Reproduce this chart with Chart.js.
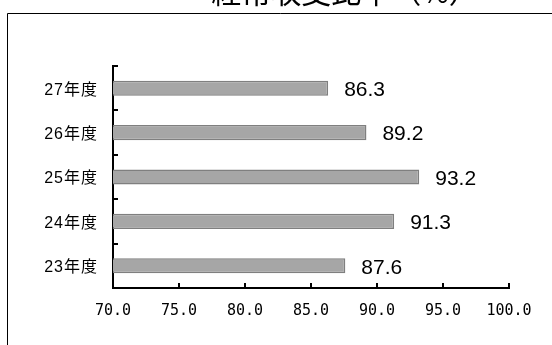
<!DOCTYPE html>
<html>
<head>
<meta charset="utf-8">
<script src="https://cdn.jsdelivr.net/npm/chart.js@4/dist/chart.umd.min.js"></script>
<style>
  html, body { margin: 0; padding: 0; background: #fff; }
  canvas { display: block; }
</style>
</head>
<body>
<canvas id="c" width="552" height="345"></canvas>
<script>
// 経常収支比率（%）— fiscal years 23–27
const titleText = '経常収支比率（%）';
const years = ['23年度', '24年度', '25年度', '26年度', '27年度'];
const ratios = [87.6, 91.3, 93.2, 89.2, 86.3];
const axisTicks = [70, 75, 80, 85, 90, 95, 100];

const labelFont = '"Liberation Sans", "Noto Sans CJK JP", sans-serif';

// Frame line, inward tick marks, title and value labels
const decor = {
  id: 'decor',
  beforeDraw(chart) {
    const ctx = chart.ctx;
    ctx.save();
    ctx.strokeStyle = '#000';
    ctx.lineWidth = 1;
    ctx.beginPath();
    ctx.moveTo(7.5, chart.height + 1);
    ctx.lineTo(7.5, 13.5);
    ctx.lineTo(chart.width + 1, 13.5);
    ctx.stroke();

    ctx.fillStyle = '#000';
    ctx.font = '30px "Noto Sans CJK JP", sans-serif';
    ctx.textAlign = 'center';
    ctx.textBaseline = 'alphabetic';
    ctx.fillText(titleText, 345, 3);
    ctx.restore();
  },
  afterDatasetsDraw(chart) {
    // category labels (drawn on the upper layer) get a little tracking
    if ('letterSpacing' in chart.ctx) chart.ctx.letterSpacing = '1px';
  },
  afterDraw(chart) {
    const ctx = chart.ctx;
    if ('letterSpacing' in ctx) ctx.letterSpacing = '0px';
    const xs = chart.scales.x, ys = chart.scales.y;
    ctx.save();
    ctx.strokeStyle = '#000';
    ctx.lineWidth = 2;
    ctx.beginPath();
    axisTicks.forEach(v => {
      const px = Math.round(xs.getPixelForValue(v));
      ctx.moveTo(px, ys.bottom);
      ctx.lineTo(px, ys.bottom - 5);
    });
    const n = years.length;
    for (let i = 0; i <= n; i++) {
      const py = Math.round(ys.top + (ys.bottom - ys.top) * i / n);
      ctx.moveTo(xs.left, py);
      ctx.lineTo(xs.left + 5, py);
    }
    ctx.stroke();

    ctx.fillStyle = '#000';
    ctx.font = '21px "Liberation Sans", sans-serif';
    ctx.textAlign = 'left';
    ctx.textBaseline = 'middle';
    const meta = chart.getDatasetMeta(0);
    meta.data.forEach((bar, i) => {
      ctx.fillText(ratios[i].toFixed(1), bar.x + 16, bar.y + 2);
    });
    ctx.restore();
  }
};

new Chart(document.getElementById('c'), {
  type: 'bar',
  data: {
    labels: years,
    datasets: [{
      data: ratios,
      backgroundColor: '#a6a6a6',
      borderColor: '#7f7f7f',
      borderWidth: 1.5,
      borderSkipped: false,
      barPercentage: 0.34,
      categoryPercentage: 1
    }]
  },
  options: {
    indexAxis: 'y',
    responsive: false,
    animation: false,
    devicePixelRatio: 1,
    layout: { padding: { left: 0, top: 66, right: 43, bottom: 0 } },
    plugins: { legend: { display: false }, tooltip: { enabled: false }, title: { display: false } },
    scales: {
      x: {
        min: 70, max: 100,
        afterBuildTicks(s) { s.ticks = axisTicks.map(v => ({ value: v })); },
        afterFit(s) { s.height = 57; },
        grid: { display: false, drawTicks: false },
        border: { display: true, color: '#000', width: 2 },
        ticks: {
          padding: 14,
          color: '#000',
          font: { family: '"DejaVu Sans Mono", monospace', size: 15 },
          callback: v => Number(v).toFixed(1)
        }
      },
      y: {
        reverse: true,
        afterFit(s) { s.width = 113; },
        grid: { display: false, drawTicks: false },
        border: { display: true, color: '#000', width: 2 },
        ticks: {
          z: 1,
          padding: 15,
          labelOffset: 2,
          color: '#000',
          font: { family: labelFont, size: 16 }
        }
      }
    }
  },
  plugins: [decor]
});
</script>
</body>
</html>
